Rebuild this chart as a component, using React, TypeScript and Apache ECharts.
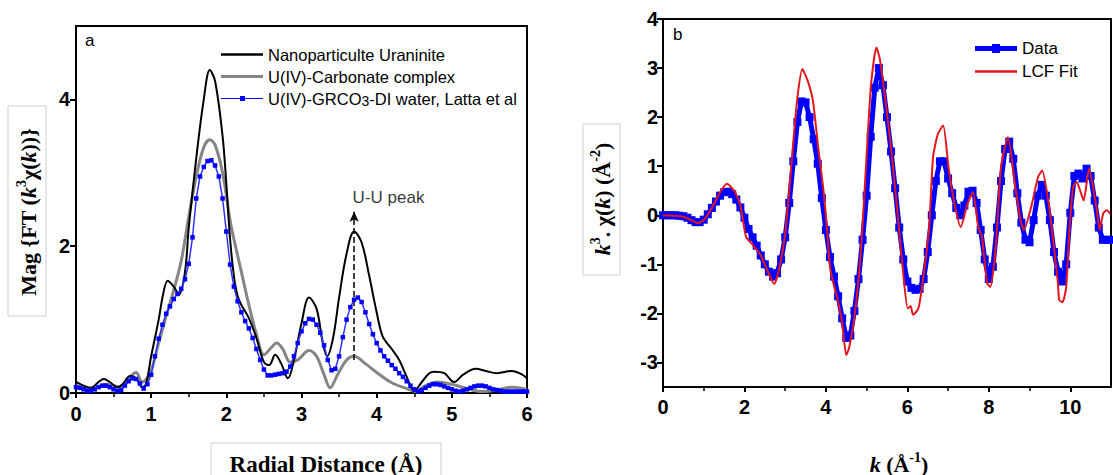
import React, { useEffect, useRef } from 'react';
import * as echarts from 'echarts';

// ---------- Panel a: Fourier transform magnitude vs radial distance ----------
const FT_BLACK: [number, number][] = [
  [0, 0.15], [0.1, 0.1], [0.2, 0.07], [0.3, 0.15], [0.37, 0.19], [0.45, 0.15], [0.55, 0.08], [0.62, 0.12],
  [0.72, 0.23], [0.8, 0.2], [0.88, 0.08], [0.93, 0.12], [1.0, 0.5], [1.1, 1.0], [1.16, 1.35], [1.22, 1.53],
  [1.3, 1.45], [1.37, 1.34], [1.45, 1.65], [1.5, 2.25], [1.6, 3.2], [1.7, 4.0], [1.78, 4.4], [1.85, 4.25],
  [1.95, 3.5], [2.0, 2.85], [2.05, 2.1], [2.1, 1.6], [2.15, 1.32], [2.2, 1.2], [2.3, 1.02], [2.4, 0.75],
  [2.5, 0.42], [2.57, 0.38], [2.65, 0.52], [2.73, 0.4], [2.82, 0.2], [2.9, 0.45], [3.0, 0.95], [3.1, 1.3],
  [3.2, 1.15], [3.28, 0.7], [3.34, 0.5], [3.42, 0.75], [3.5, 1.3], [3.6, 1.9], [3.7, 2.2], [3.8, 2.05],
  [3.9, 1.6], [4.0, 1.1], [4.08, 0.77], [4.2, 0.6], [4.3, 0.45], [4.4, 0.22], [4.5, 0.03], [4.6, 0.15],
  [4.7, 0.27], [4.77, 0.29], [4.9, 0.27], [5.03, 0.15], [5.15, 0.25], [5.32, 0.33], [5.45, 0.3], [5.6, 0.27],
  [5.8, 0.3], [5.92, 0.26], [6.0, 0.2],
];

const FT_GRAY: [number, number][] = [
  [0, 0.1], [0.2, 0.05], [0.4, 0.12], [0.6, 0.08], [0.7, 0.2], [0.8, 0.28], [0.88, 0.15], [0.95, 0.2],
  [1.0, 0.3], [1.1, 0.68], [1.2, 1.05], [1.3, 1.4], [1.4, 1.8], [1.5, 2.4], [1.6, 2.95], [1.7, 3.35],
  [1.78, 3.45], [1.85, 3.38], [1.95, 3.0], [2.05, 2.35], [2.1, 2.1], [2.2, 1.65], [2.3, 1.2], [2.4, 0.8],
  [2.5, 0.52], [2.6, 0.62], [2.67, 0.68], [2.75, 0.6], [2.85, 0.42], [2.95, 0.45], [3.1, 0.58], [3.2, 0.5],
  [3.3, 0.25], [3.38, 0.07], [3.48, 0.25], [3.6, 0.45], [3.7, 0.5], [3.85, 0.4], [4.0, 0.28], [4.2, 0.14],
  [4.4, 0.06], [4.52, 0.02], [4.65, 0.1], [4.8, 0.15], [5.0, 0.12], [5.2, 0.06], [5.4, 0.02], [5.6, 0.04],
  [5.8, 0.08], [6.0, 0.05],
];

const FT_BLUE_STEP = 0.05;
const FT_BLUE: number[] = [
  0.08, 0.07, 0.05, 0.03, 0.03, 0.05, 0.08, 0.10, 0.10, 0.08,
  0.05, 0.03, 0.04, 0.10, 0.16, 0.20, 0.19, 0.13, 0.06, 0.12,
  0.25, 0.50, 0.74, 0.93, 1.08, 1.18, 1.28, 1.35, 1.42, 1.55,
  1.76, 2.12, 2.65, 2.95, 3.08, 3.16, 3.17, 3.10, 2.95, 2.65,
  2.20, 1.75, 1.45, 1.25, 1.10, 0.98, 0.88, 0.75, 0.60, 0.45,
  0.32, 0.24, 0.24, 0.25, 0.26, 0.27, 0.29, 0.36, 0.50, 0.68,
  0.84, 0.95, 1.01, 1.00, 0.93, 0.82, 0.65, 0.45, 0.31, 0.33,
  0.50, 0.76, 1.00, 1.17, 1.27, 1.30, 1.24, 1.10, 0.94, 0.80,
  0.68, 0.58, 0.50, 0.44, 0.38, 0.33, 0.27, 0.22, 0.16, 0.10,
  0.05, 0.02, 0.04, 0.07, 0.10, 0.12, 0.12, 0.11, 0.09, 0.07,
  0.05, 0.03, 0.02, 0.03, 0.05, 0.07, 0.09, 0.10, 0.10, 0.09,
  0.07, 0.05, 0.04, 0.03, 0.02, 0.02, 0.02, 0.02, 0.02, 0.02,
  0.02,
];

const LEFT_NAMES = ['Nanoparticulte Uraninite', 'U(IV)-Carbonate complex', 'U(IV)-GRCO3-DI water, Latta et al'];
const LEFT_X_MAX = 6;
const LEFT_Y_TICKS = [0, 2, 4];
const PEAK_LINE: [number, number][] = [[3.7, 0.45], [3.7, 2.47]];
const PEAK_LABEL: [number, number] = [3.68, 2.66];

// ---------- Panel b: k3-weighted EXAFS ----------
const K_STEP = 0.1;
const K_DATA: number[] = [
  0.00, 0.00, 0.00, 0.00, -0.01, -0.02, -0.05, -0.10, -0.14, -0.14,
  -0.09, 0.02, 0.15, 0.28, 0.40, 0.47, 0.48, 0.43, 0.32, 0.16,
  -0.05, -0.28, -0.45, -0.62, -0.82, -1.00, -1.15, -1.25, -1.18, -0.90,
  -0.45, 0.25, 1.10, 1.90, 2.32, 2.30, 2.00, 1.55, 1.05, 0.35,
  -0.30, -0.85, -1.25, -1.65, -2.10, -2.50, -2.45, -1.95, -1.30, -0.50,
  0.40, 1.60, 2.60, 3.00, 2.65, 2.00, 1.30, 0.55, -0.25, -0.90,
  -1.35, -1.48, -1.52, -1.50, -1.30, -0.75, 0.00, 0.70, 1.10, 1.10,
  0.75, 0.45, 0.15, 0.00, 0.20, 0.48, 0.50, 0.25, -0.30, -0.90,
  -1.30, -1.05, -0.25, 0.70, 1.35, 1.50, 1.15, 0.45, -0.15, -0.50,
  -0.55, -0.10, 0.40, 0.62, 0.40, -0.10, -0.75, -1.15, -1.35, -1.00,
  0.05, 0.80, 0.85, 0.75, 0.95, 0.80, 0.30, -0.25, -0.50, -0.50,
  -0.50,
];

const K_FIT: [number, number][] = [
  [0, 0], [0.3, -0.01], [0.5, -0.03], [0.7, -0.1], [0.85, -0.16], [1.0, -0.1], [1.2, 0.15], [1.4, 0.47],
  [1.57, 0.64], [1.75, 0.5], [1.9, 0.2], [2.04, -0.44], [2.2, -0.6], [2.39, -0.8], [2.55, -1.1], [2.73, -1.4],
  [2.85, -1.1], [2.99, -0.44], [3.1, 0.5], [3.2, 1.5], [3.3, 2.4], [3.42, 2.98], [3.55, 2.75], [3.68, 2.34],
  [3.81, 1.39], [3.94, 0.51], [4.03, -0.3], [4.11, -1.12], [4.29, -1.73], [4.4, -2.2], [4.5, -2.85], [4.57, -2.7],
  [4.68, -2.2], [4.8, -1.32], [4.9, -0.2], [5.02, 1.52], [5.11, 2.68], [5.24, 3.42], [5.32, 3.2], [5.41, 2.68],
  [5.58, 1.52], [5.76, 0.04], [5.9, -1.2], [6.01, -1.9], [6.08, -1.85], [6.14, -2.03], [6.27, -1.9], [6.36, -1.46],
  [6.53, -0.3], [6.63, 1.18], [6.75, 1.66], [6.88, 1.83], [7.01, 0.98], [7.14, 0.3], [7.31, -0.24], [7.48, 0.24],
  [7.61, 0.47], [7.74, -0.24], [7.83, -0.44], [7.96, -1.39], [8.04, -1.46], [8.17, -0.64], [8.3, 0.98], [8.47, 1.59],
  [8.65, 0.58], [8.78, -0.1], [8.86, -0.3], [9.04, 0.17], [9.21, 0.78], [9.31, 0.91], [9.47, 0.24], [9.55, -0.3],
  [9.69, -1.32], [9.73, -1.73], [9.81, -1.77], [9.9, -1.46], [9.98, -0.3], [10.07, 0.58], [10.16, 0.68], [10.24, 0.51],
  [10.33, 0.3], [10.46, 0.95], [10.64, 0.17], [10.72, -0.3], [10.81, 0.04], [10.9, 0.1], [10.98, 0.03],
];

const RIGHT_NAMES = ['Data', 'LCF Fit'];
const RIGHT_X_TICKS = [0, 2, 4, 6, 8, 10];
const RIGHT_Y_TICKS = [-3, -2, -1, 0, 1, 2, 3, 4];

const SANS = '"Liberation Sans", Arial, sans-serif';
const SERIF = '"Liberation Serif", "Times New Roman", serif';

function axisCommon() {
  return {
    axisLine: { show: true, onZero: false, lineStyle: { color: '#000', width: 2 } },
    axisTick: { show: true, inside: false, length: 5, lineStyle: { color: '#000', width: 2 } },
    splitLine: { show: false },
    axisLabel: { color: '#000', fontSize: 20, fontWeight: 'bold', fontFamily: SANS },
  };
}

const RICH_LABEL = {
  i: { font: `italic bold 22px ${SERIF}`, fill: '#000', lineHeight: 28 },
  sup: { font: `bold 14px ${SERIF}`, fill: '#000', lineHeight: 14, verticalAlign: 'top' },
};

export default function App() {
  const ref = useRef<HTMLDivElement>(null);

  useEffect(() => {
    document.body.style.margin = '0';
    const chart = echarts.init(ref.current!, null, { renderer: 'svg' });
    const c = axisCommon();

    const blueData = FT_BLUE.map((v, i) => [+(i * FT_BLUE_STEP).toFixed(2), v]);
    const kData = K_DATA.map((v, i) => [+(i * K_STEP).toFixed(1), v]);

    const option: any = {
      animation: false,
      backgroundColor: '#fff',
      grid: [
        { left: 76, top: 26, width: 451, height: 367, show: true, borderColor: '#000', borderWidth: 2, backgroundColor: 'transparent' },
        { left: 663, top: 19, width: 448, height: 368, show: true, borderColor: '#000', borderWidth: 2, backgroundColor: 'transparent' },
      ],
      xAxis: [
        {
          type: 'value', gridIndex: 0, min: 0, max: LEFT_X_MAX, interval: 1,
          ...c,
          minorTick: { show: true, splitNumber: 2, length: 4, lineStyle: { color: '#000', width: 1.5 } },
          minorSplitLine: { show: false },
          axisLabel: { ...c.axisLabel, margin: 11 },
        },
        {
          type: 'value', gridIndex: 1, min: 0, max: 11, interval: 2,
          ...c,
          minorTick: { show: true, splitNumber: 2, length: 4, lineStyle: { color: '#000', width: 1.5 } },
          minorSplitLine: { show: false },
          axisLabel: { ...c.axisLabel, margin: 10, customValues: RIGHT_X_TICKS },
          axisTick: { ...c.axisTick, customValues: RIGHT_X_TICKS },
        },
      ],
      yAxis: [
        {
          type: 'value', gridIndex: 0, min: 0, max: 5,
          ...c,
          axisTick: { ...c.axisTick, length: 6, customValues: LEFT_Y_TICKS },
          axisLabel: { ...c.axisLabel, margin: 6, customValues: LEFT_Y_TICKS },
        },
        {
          type: 'value', gridIndex: 1, min: -3.5, max: 4,
          ...c,
          axisTick: { ...c.axisTick, length: 6, customValues: RIGHT_Y_TICKS },
          axisLabel: { ...c.axisLabel, margin: 5, customValues: RIGHT_Y_TICKS },
        },
      ],
      legend: [
        {
          orient: 'vertical', left: 216, top: 40, itemWidth: 42, itemHeight: 14, itemGap: 3,
          textStyle: {
            fontSize: 16.5, fontFamily: SANS, color: '#000', lineHeight: 19,
            rich: { sub: { fontSize: 14, fontFamily: SANS, color: '#000', lineHeight: 13, verticalAlign: 'bottom' } },
          },
          formatter: (n: string) => (n === LEFT_NAMES[2] ? 'U(IV)-GRCO{sub|3}-DI water, Latta et al' : n),
          data: [
            { name: LEFT_NAMES[0], icon: 'path://M0,0 L42,0 L42,2.5 L0,2.5 Z' },
            { name: LEFT_NAMES[1], icon: 'path://M0,0 L42,0 L42,3 L0,3 Z' },
            { name: LEFT_NAMES[2], icon: 'path://M0,2 L42,2 L42,3 L0,3 Z M19,0 L24,0 L24,5 L19,5 Z' },
          ],
          selectedMode: false,
        },
        {
          orient: 'vertical', left: 970, top: 35, itemWidth: 42, itemHeight: 14, itemGap: 6,
          textStyle: { fontSize: 17, fontFamily: SANS, color: '#000' },
          data: [
            { name: RIGHT_NAMES[0], icon: 'path://M0,2 L42,2 L42,7 L0,7 Z M17,0 L25,0 L25,9 L17,9 Z' },
            { name: RIGHT_NAMES[1], icon: 'path://M0,0 L42,0 L42,2.5 L0,2.5 Z' },
          ],
          selectedMode: false,
        },
      ],
      series: [
        {
          name: LEFT_NAMES[0], type: 'line', xAxisIndex: 0, yAxisIndex: 0, data: FT_BLACK,
          smooth: 0.35, symbol: 'none', color: '#000', lineStyle: { color: '#000', width: 2 }, z: 4,
        },
        {
          name: LEFT_NAMES[1], type: 'line', xAxisIndex: 0, yAxisIndex: 0, data: FT_GRAY,
          smooth: 0.35, symbol: 'none', color: '#858585', lineStyle: { color: '#858585', width: 3 }, z: 3,
        },
        {
          name: LEFT_NAMES[2], type: 'line', xAxisIndex: 0, yAxisIndex: 0, data: blueData,
          symbol: 'rect', symbolSize: 4.5, color: '#0000ff',
          itemStyle: { color: '#0000ff' }, lineStyle: { color: '#3030ff', width: 1.5 }, z: 5,
        },
        {
          name: 'peak', type: 'line', xAxisIndex: 0, yAxisIndex: 0, data: [], silent: true,
          markLine: {
            silent: true, symbol: ['none', 'arrow'], symbolSize: [7, 10], label: { show: false },
            lineStyle: { color: '#000', type: 'dashed', width: 1.5 },
            data: [[{ coord: PEAK_LINE[0] }, { coord: PEAK_LINE[1] }]],
          },
        },
        {
          name: 'peakLabel', type: 'scatter', xAxisIndex: 0, yAxisIndex: 0, data: [PEAK_LABEL],
          symbolSize: 0, silent: true,
          label: { show: true, position: 'right', distance: 0, formatter: 'U-U peak', fontSize: 17, fontFamily: SANS, color: '#000' },
        },
        {
          name: RIGHT_NAMES[0], type: 'line', xAxisIndex: 1, yAxisIndex: 1, data: kData,
          symbol: 'rect', symbolSize: 8, color: '#0000ff',
          itemStyle: { color: '#0000ff' }, lineStyle: { color: '#0000ff', width: 5 }, z: 3,
        },
        {
          name: RIGHT_NAMES[1], type: 'line', xAxisIndex: 1, yAxisIndex: 1, data: K_FIT,
          smooth: 0.2, symbol: 'none', color: '#e3161c', lineStyle: { color: '#e3161c', width: 2 }, z: 4,
        },
      ],
      graphic: [
        { type: 'text', left: 85, top: 32, style: { text: 'a', font: `17px ${SANS}`, fill: '#000' } },
        { type: 'text', left: 673, top: 26, style: { text: 'b', font: `17px ${SANS}`, fill: '#000' } },
        { type: 'rect', shape: { x: 8, y: 106, width: 38, height: 210 }, style: { fill: 'none', stroke: '#cfcfcf', lineWidth: 1 } },
        {
          type: 'text', x: 28, y: 212, rotation: Math.PI / 2,
          style: {
            text: 'Mag {FT ({i|k}{sup|3}χ({i|k}))}', font: `bold 22px ${SERIF}`, fill: '#000',
            align: 'center', verticalAlign: 'middle', lineHeight: 28, rich: RICH_LABEL,
          },
        },
        { type: 'rect', shape: { x: 211, y: 443, width: 230, height: 40 }, style: { fill: 'none', stroke: '#cfcfcf', lineWidth: 1 } },
        {
          type: 'text', x: 326, y: 464,
          style: { text: 'Radial Distance (Å)', font: `bold 23px ${SERIF}`, fill: '#000', align: 'center', verticalAlign: 'middle' },
        },
        { type: 'rect', shape: { x: 583, y: 124, width: 37, height: 151 }, style: { fill: 'none', stroke: '#cfcfcf', lineWidth: 1 } },
        {
          type: 'text', x: 602, y: 199, rotation: Math.PI / 2,
          style: {
            text: '{i|k}{sup|3}. χ({i|k}) (Å{sup|-2})', font: `bold 22px ${SERIF}`, fill: '#000',
            align: 'center', verticalAlign: 'middle', lineHeight: 28, rich: RICH_LABEL,
          },
        },
        {
          type: 'text', x: 899, y: 464,
          style: {
            text: '{i|k} (Å{sup|-1})', font: `bold 22px ${SERIF}`, fill: '#000',
            align: 'center', verticalAlign: 'middle', lineHeight: 28, rich: RICH_LABEL,
          },
        },
      ],
    };

    chart.setOption(option);
    return () => chart.dispose();
  }, []);

  return <div ref={ref} style={{ width: 1113, height: 475, background: '#fff' }} />;
}
